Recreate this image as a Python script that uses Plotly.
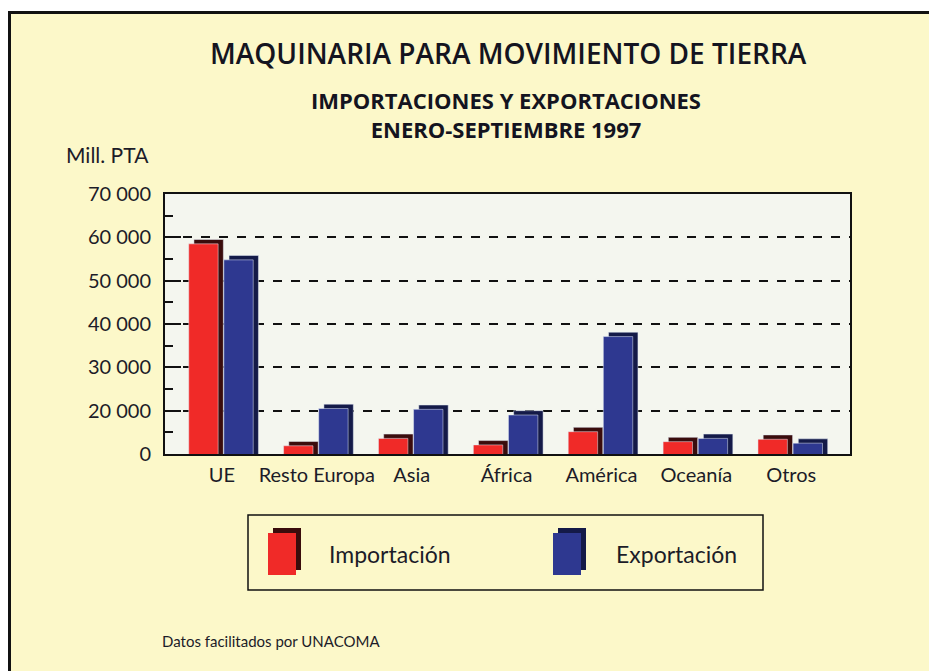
import plotly.graph_objects as go

# values (in axis units: the baseline sits on the 10 000 level,
# the printed labels skip 10 000 exactly like the original)
categories = ["UE", "Resto Europa", "Asia", "África", "América", "Oceanía", "Otros"]
importacion = [58500, 11900, 13600, 12100, 15150, 12850, 13400]
exportacion = [54800, 20500, 20300, 19000, 37100, 13600, 12500]
tick_values = [10000, 20000, 30000, 40000, 50000, 60000, 70000]
tick_labels = ["0", "20 000", "30 000", "40 000", "50 000", "60 000", "70 000"]

RED, RED_DARK = "#f02a28", "#3a0c0c"
BLUE, BLUE_DARK = "#2e3890", "#141a48"
PAPER = "#fcf8c9"
FONT = "Lato"
TITLE_FONT = "Open Sans"

depth_y = 1000   # fake 3D cap height (data units)
depth_x = 0.055  # fake 3D side width (category units)
w = 0.31
off_imp, off_exp = -0.35, 0.02

fig = go.Figure()
# dark "depth" boxes behind the bars
fig.add_bar(x=categories, y=[v + depth_y for v in importacion], width=w,
            offset=off_imp + depth_x, marker_color=RED_DARK, hoverinfo="skip")
fig.add_bar(x=categories, y=[v + depth_y for v in exportacion], width=w,
            offset=off_exp + depth_x, marker_color=BLUE_DARK, hoverinfo="skip")
# front faces
fig.add_bar(x=categories, y=importacion, width=w, offset=off_imp,
            marker_color=RED, name="Importación")
fig.add_bar(x=categories, y=exportacion, width=w, offset=off_exp,
            marker_color=BLUE, name="Exportación")

# page body has an 8px margin, so the figure sits at (8, 8)
fig.update_layout(
    width=929, height=663,
    margin=dict(l=157, r=87, t=186, b=217),
    barmode="overlay",
    showlegend=False,
    paper_bgcolor=PAPER,
    plot_bgcolor="#f4f6ef",
    font=dict(family=FONT, color="#1c1c28"),
)
fig.update_xaxes(
    range=[-0.6, 6.62], showline=True, linecolor="#111", linewidth=2, mirror=True,
    ticks="", showgrid=False, tickfont=dict(size=20), ticklabelstandoff=2,
)
fig.update_yaxes(
    range=[10000, 70000], tickvals=tick_values, ticktext=tick_labels,
    showline=True, linecolor="#111", linewidth=2, mirror=True,
    ticks="inside", ticklen=16, tickcolor="#111", tickwidth=1.5,
    minor=dict(ticks="inside", ticklen=8, dtick=5000, tick0=10000,
               tickcolor="#111", tickwidth=1.5, showgrid=False),
    showgrid=True, gridcolor="#111", gridwidth=1.5, griddash="dash",
    tickfont=dict(size=20), ticklabelstandoff=8,
)


# page pixel -> paper fraction (plot area spans x 165..850, y 194..454)
def px(x):
    return (x - 165) / 685


def py(y):
    return (454 - y) / 260


shapes = [
    # white strip above the frame
    dict(type="rect", xref="paper", yref="paper", x0=px(0), x1=px(945), y0=py(0), y1=py(12),
         fillcolor="white", line_width=0, layer="above"),
    # frame
    dict(type="rect", xref="paper", yref="paper", x0=px(9.5), x1=px(945), y0=py(12.5), y1=py(690),
         line=dict(color="#111", width=3), fillcolor="rgba(0,0,0,0)", layer="above"),
    # legend box
    dict(type="rect", xref="paper", yref="paper", x0=px(248), x1=px(763), y0=py(515), y1=py(590),
         line=dict(color="#111", width=1.5), fillcolor="rgba(0,0,0,0)", layer="above"),
]
# legend cubes
for fx, front, back in [(268, RED, RED_DARK), (553, BLUE, BLUE_DARK)]:
    shapes.append(dict(type="rect", xref="paper", yref="paper", x0=px(fx + 5), x1=px(fx + 33),
                       y0=py(528), y1=py(570), fillcolor=back, line_width=0, layer="above"))
    shapes.append(dict(type="rect", xref="paper", yref="paper", x0=px(fx), x1=px(fx + 28),
                       y0=py(533), y1=py(575), fillcolor=front, line_width=0, layer="above"))

annotations = [
    dict(text="MAQUINARIA PARA MOVIMIENTO DE TIERRA", x=px(508), y=py(53),
         font=dict(family=TITLE_FONT, size=28, color="#141420", weight=600)),
    dict(text="IMPORTACIONES Y EXPORTACIONES<br>ENERO-SEPTIEMBRE 1997", x=px(506), y=py(114),
         font=dict(family=TITLE_FONT, size=22, color="#141420", weight="bold")),
    dict(text="Mill. PTA", x=px(64), y=py(154), xanchor="left", font=dict(size=21)),
    dict(text="Importación", x=px(327), y=py(554), xanchor="left", font=dict(size=23)),
    dict(text="Exportación", x=px(614), y=py(554), xanchor="left", font=dict(size=23)),
    dict(text="Datos facilitados por UNACOMA", x=px(160), y=py(641), xanchor="left",
         font=dict(size=15)),
]
for a in annotations:
    a.update(xref="paper", yref="paper", showarrow=False)
    a.setdefault("xanchor", "center")
    a.setdefault("yanchor", "middle")

fig.update_layout(shapes=shapes, annotations=annotations)

fig.write_html("out.html")
